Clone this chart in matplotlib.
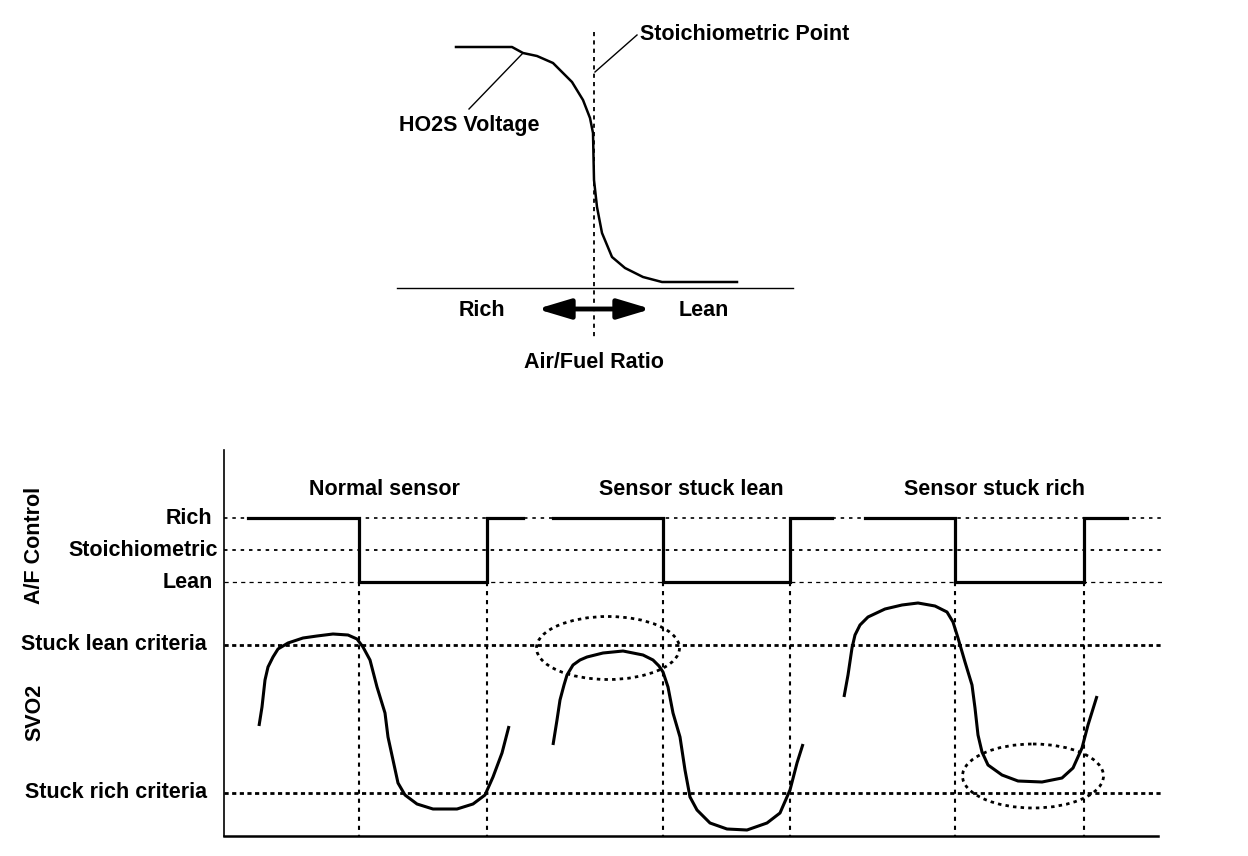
import matplotlib
matplotlib.use("Agg")
import matplotlib.pyplot as plt
from matplotlib.patches import Ellipse

plt.rcParams['font.family'] = ['Liberation Sans', 'DejaVu Sans']
plt.rcParams['font.weight'] = 'bold'
plt.rcParams['lines.scale_dashes'] = False

# ---- top chart: HO2S voltage vs air/fuel ratio (pixel units) ----
ho2s_x = [456, 512, 523, 537, 553, 572, 583, 590, 593, 594, 597, 602, 612, 625, 643, 662, 737]
ho2s_y = [47, 47, 53, 56, 63, 82, 100, 118, 133, 180, 207, 233, 257, 268, 277, 282, 282]
stoich_x = 594

# ---- bottom chart: levels ----
af_levels = {'Rich': 518, 'Stoichiometric': 550, 'Lean': 582}
criteria = {'Stuck lean criteria': 645, 'Stuck rich criteria': 793}
sections = ['Normal sensor', 'Sensor stuck lean', 'Sensor stuck rich']

# square wave per section: start, drop to lean, back to rich, end
wave_start = [248, 553, 865]
wave_drop = [359, 663, 955]
wave_rise = [487, 790, 1084]
wave_end = [523, 832, 1127]

# SVO2 traces
svo2_normal_x = [259, 262, 265, 268, 273, 278, 288, 303, 317, 333, 348, 357, 363, 370, 377,
                 385, 388, 393, 398, 405, 417, 433, 457, 473, 485, 493, 502, 509]
svo2_normal_y = [726, 707, 680, 667, 657, 649, 643, 638, 636, 634, 635, 639, 647, 660, 687,
                 713, 737, 760, 783, 795, 804, 809, 809, 804, 795, 777, 753, 726]
svo2_lean_x = [553, 557, 560, 564, 567, 573, 580, 587, 603, 623, 643, 653, 659, 663, 668, 673,
               680, 685, 690, 697, 710, 727, 747, 767, 780, 790, 797, 803]
svo2_lean_y = [745, 720, 700, 685, 675, 665, 660, 657, 653, 651, 655, 660, 666, 672, 687, 713,
               737, 770, 797, 810, 823, 829, 830, 823, 813, 790, 763, 744]
svo2_rich_x = [844, 848, 852, 855, 860, 868, 885, 902, 918, 935, 947, 953, 958, 965, 972, 975,
               978, 982, 988, 1002, 1018, 1042, 1062, 1073, 1082, 1088, 1097]
svo2_rich_y = [697, 675, 648, 635, 625, 617, 609, 605, 603, 606, 612, 622, 638, 662, 685, 708,
               735, 752, 765, 775, 781, 782, 778, 768, 748, 725, 696]

# highlighted regions (center x, center y, width, height)
circles = [(608, 648, 143, 63), (1033, 776, 141, 64)]

fig = plt.figure(figsize=(12.48, 8.56), dpi=100)
ax = fig.add_axes([0, 0, 1, 1])
ax.set_xlim(0, 1248)
ax.set_ylim(856, 0)
ax.axis('off')

fs = 15.5

# top chart
ax.plot([397, 793], [288, 288], color='black', lw=1.0)
ax.plot([stoich_x, stoich_x], [32, 337], color='black', lw=1.3, ls=(0, (3, 3)))
ax.plot(ho2s_x, ho2s_y, color='black', lw=1.8, solid_joinstyle='round')
ax.plot([523, 469], [53, 109], color='black', lw=1.0)
ax.plot([595, 637], [72, 35], color='black', lw=1.0)
ax.text(469, 125, 'HO2S Voltage', fontsize=fs, ha='center', va='center')
ax.text(640, 34, 'Stoichiometric Point', fontsize=fs, ha='left', va='center')
ax.text(482, 311, 'Rich', fontsize=fs, ha='center', va='center')
ax.text(704, 311, 'Lean', fontsize=fs, ha='center', va='center')
ax.text(594, 362, 'Air/Fuel Ratio', fontsize=fs, ha='center', va='center')
ax.annotate('', xy=(651, 309), xytext=(537, 309),
            arrowprops=dict(arrowstyle='<|-|>,head_length=1.0,head_width=0.3',
                            mutation_scale=20, lw=3.5, color='black',
                            shrinkA=0, shrinkB=0))

# bottom chart frame
ax.plot([224, 224], [450, 836], color='black', lw=1.2)
ax.plot([224, 1158], [836, 836], color='black', lw=1.8)

# reference lines
x0, x1 = 224, 1162
ax.plot([x0, x1], [af_levels['Rich']] * 2, color='black', lw=1.2, ls=(0, (2.5, 3.5)))
ax.plot([x0, x1], [af_levels['Stoichiometric']] * 2, color='black', lw=1.3, ls=(0, (2.5, 3.5)))
ax.plot([x0, x1], [af_levels['Lean']] * 2, color='black', lw=0.9, ls=(0, (3, 3)))
for name, y in criteria.items():
    ax.plot([x0, x1], [y, y], color='black', lw=2.0, ls=(0, (3, 2.5)))
for xs in wave_drop + wave_rise:
    ax.plot([xs, xs], [af_levels['Lean'], 836], color='black', lw=1.5, ls=(0, (3, 3.5)))

# A/F control square waves
rich, lean = af_levels['Rich'], af_levels['Lean']
for s, d, r, e in zip(wave_start, wave_drop, wave_rise, wave_end):
    ax.plot([s, d, d, r, r, e], [rich, rich, lean, lean, rich, rich],
            color='black', lw=2.3, solid_joinstyle='miter')

# SVO2 traces
for xs, ys in [(svo2_normal_x, svo2_normal_y), (svo2_lean_x, svo2_lean_y),
               (svo2_rich_x, svo2_rich_y)]:
    ax.plot(xs, ys, color='black', lw=2.2, solid_capstyle='butt', solid_joinstyle='round')

for cx, cy, w, h in circles:
    ax.add_patch(Ellipse((cx, cy), w, h, fill=False, ec='black', lw=2.0,
                         ls=(0, (2.5, 3))))

# labels
sec_x = [384, 691, 994]
for name, x in zip(sections, sec_x):
    ax.text(x, 489, name, fontsize=fs, ha='center', va='center')
ax.text(212, af_levels['Rich'], 'Rich', fontsize=fs, ha='right', va='center')
ax.text(218, af_levels['Stoichiometric'], 'Stoichiometric', fontsize=fs, ha='right', va='center')
ax.text(213, af_levels['Lean'], 'Lean', fontsize=fs, ha='right', va='center')
for name, y in criteria.items():
    ax.text(207, y, name, fontsize=fs, ha='right', va='center')
ax.text(35, 545, 'A/F Control', fontsize=fs, rotation=90, ha='center', va='center')
ax.text(35, 712, 'SVO2', fontsize=fs, rotation=90, ha='center', va='center')

fig.savefig('out.png', dpi=100, facecolor='white')
